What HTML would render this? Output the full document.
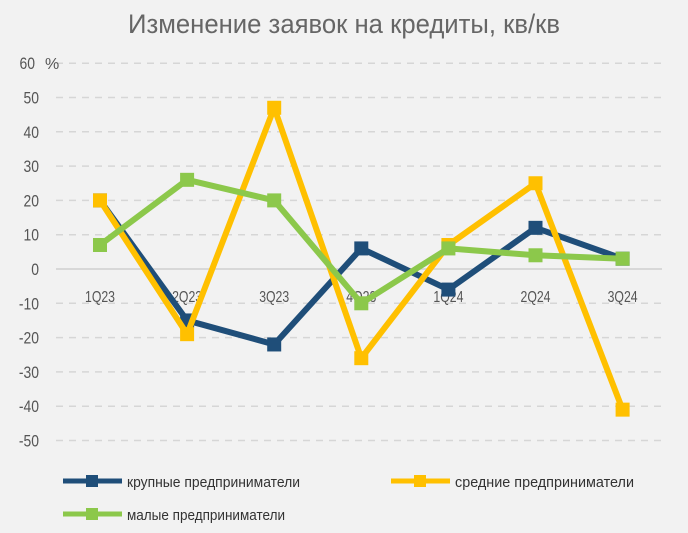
<!DOCTYPE html>
<html><head><meta charset="utf-8"><style>
body{margin:0;background:#f2f2f2;}
svg{display:block;font-family:"Liberation Sans Narrow","Liberation Sans",sans-serif;}
</style></head><body>
<svg id="c" width="688" height="533" viewBox="0 0 688 533">
<rect width="688" height="533" fill="#f2f2f2"/>
<text x="344" y="33" text-anchor="middle" font-size="27" fill="#666" textLength="432" lengthAdjust="spacingAndGlyphs">Изменение заявок на кредиты, кв/кв</text>
<g id="grid"></g><g id="series"></g>
<g>
<g><line x1="63" y1="481" x2="122" y2="481" stroke="#1f4e79" stroke-width="5"/><rect x="86" y="475" width="12" height="12" fill="#1f4e79"/><text x="127" y="487" font-size="15" fill="#333" textLength="173" lengthAdjust="spacingAndGlyphs">крупные предприниматели</text></g>
<g><line x1="391" y1="481" x2="450" y2="481" stroke="#ffc000" stroke-width="5"/><rect x="414" y="475" width="12" height="12" fill="#ffc000"/><text x="455" y="487" font-size="15" fill="#333" textLength="179" lengthAdjust="spacingAndGlyphs">средние предприниматели</text></g>
<g><line x1="63" y1="514" x2="122" y2="514" stroke="#8cc84b" stroke-width="5"/><rect x="86" y="508" width="12" height="12" fill="#8cc84b"/><text x="127" y="520" font-size="15" fill="#333" textLength="158" lengthAdjust="spacingAndGlyphs">малые предприниматели</text></g>
</g>
</svg>
<script>
const categories=["1Q23","2Q23","3Q23","4Q23","1Q24","2Q24","3Q24"];
const large=[20,-15,-22,6,-6,12,3];
const medium=[20,-19,47,-26,7,25,-41];
const small=[7,26,20,-10,6,4,3];
const yTicks=[60,50,40,30,20,10,0,-10,-20,-30,-40,-50];
const NS="http://www.w3.org/2000/svg";
const x=i=>100+i*87.1;
const y=v=>269-v*3.43;
const grid=document.getElementById('grid');
function mk(t,a,p){const e=document.createElementNS(NS,t);for(const k in a)e.setAttribute(k,a[k]);p.appendChild(e);return e;}
yTicks.forEach(v=>{
  const l=mk('line',{x1:56,x2:662,y1:y(v),y2:y(v),stroke:v===0?'#d0d0d0':'#d6d6d6','stroke-width':1.5,'stroke-dasharray':v===0?'':'7 6'},grid);
  
  
  const t=mk('text',{x:v===60?35:39,y:y(v)+6,'text-anchor':'end','font-size':17,fill:'#555',transform:'translate('+(v===60?35:39)+',0) scale(0.82,1) translate('+(-(v===60?35:39))+',0)'},grid);
  t.textContent=String(v);
  
  
});
const pct=mk('text',{x:45,y:y(60)+6,'font-size':16,fill:'#555'},grid);pct.textContent='%';


categories.forEach((c,i)=>{
  const t=mk('text',{x:x(i),y:302,'text-anchor':'middle','font-size':16,fill:'#555',textLength:30,lengthAdjust:'spacingAndGlyphs'},grid);
  t.textContent=c;
  
  
});
const sg=document.getElementById('series');
[[large,'#1f4e79','large'],[medium,'#ffc000','medium'],[small,'#8cc84b','small']].forEach(([d,col,n])=>{
  const g=mk('g',{},sg);
  
  
  const p=mk('polyline',{points:d.map((v,i)=>x(i)+','+y(v)).join(' '),fill:'none',stroke:col,'stroke-width':6,'stroke-linejoin':'round'},g);
  
  
  d.forEach((v,i)=>{
    const r=mk('rect',{x:x(i)-7,y:y(v)-7,width:14,height:14,fill:col},g);
    
    
  });
});
</script>
</body></html>
